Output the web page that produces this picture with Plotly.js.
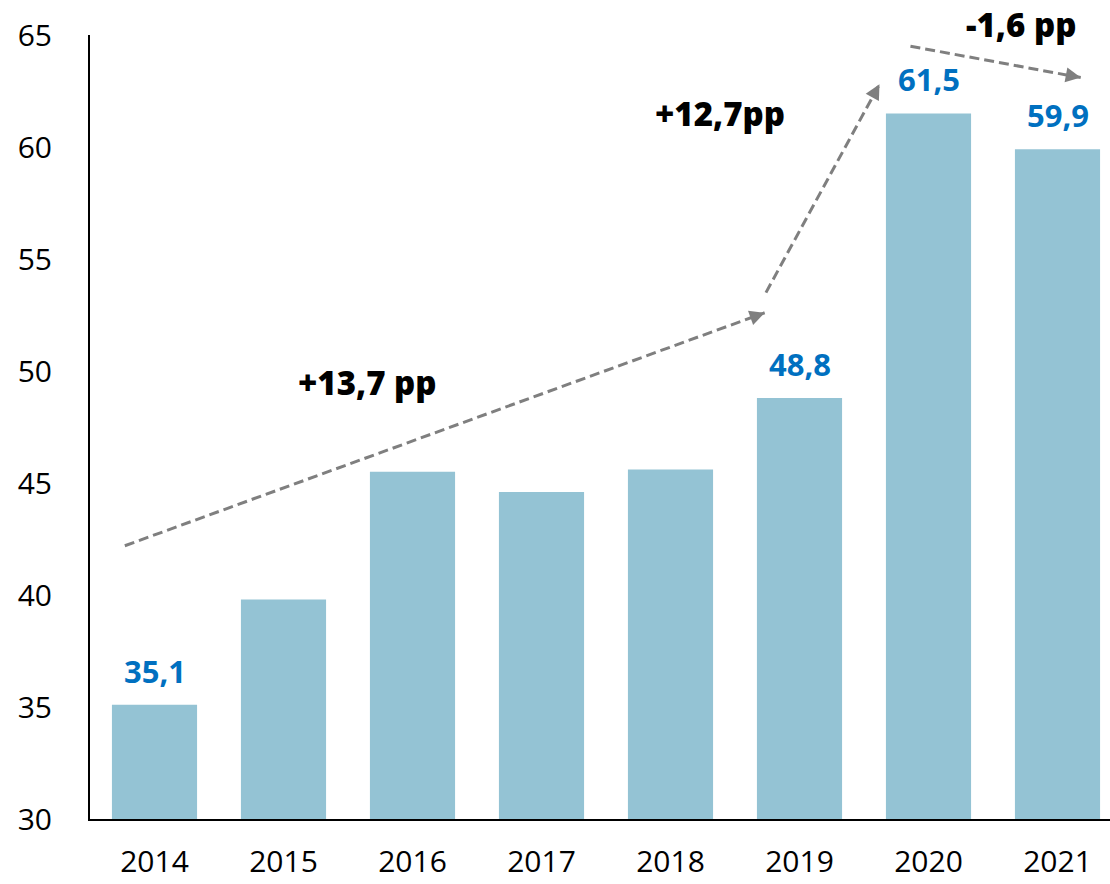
<!DOCTYPE html>
<html>
<head>
<meta charset="utf-8">
<script src="https://cdn.plot.ly/plotly-3.0.1.min.js"></script>
<style>html,body{margin:0;padding:0;background:#fff;}#chart{width:1110px;height:884px;}</style>
</head>
<body>
<div id="chart"></div>
<script>
const years = ['2014', '2015', '2016', '2017', '2018', '2019', '2020', '2021'];
const values = [35.1, 39.8, 45.5, 44.6, 45.6, 48.8, 61.5, 59.9];
const valueLabels = ['35,1', '', '', '', '', '48,8', '61,5', '59,9'];
const yTicks = [30, 35, 40, 45, 50, 55, 60, 65];

// change arrows: start / end in category-index / value units
const arrowStarts = [[-0.23, 42.2], [4.74, 53.5], [5.86, 64.5]];
const arrowEnds = [[4.73, 52.6], [5.62, 62.8], [7.18, 63.1]];
const changeLabels = ['+13,7 pp', '+12,7pp', '-1,6 pp'];
const changeLabelPos = [[1.65, 49.5], [4.38, 61.5], [6.72, 65.45]];

const W = 1110, H = 884;
const margin = {l: 90, r: 0, t: 35, b: 65};
const xRange = [-0.5, 7.407];
const yRange = [30, 65];
const pxX = (W - margin.l - margin.r) / (xRange[1] - xRange[0]);
const pxY = (H - margin.t - margin.b) / (yRange[1] - yRange[0]);

const gray = '#7F7F7F';
const shapes = [];
const annotations = [];

arrowStarts.forEach((s, i) => {
  const e = arrowEnds[i];
  shapes.push({type: 'line', xref: 'x', yref: 'y', x0: s[0], y0: s[1], x1: e[0], y1: e[1],
    line: {color: gray, width: 3, dash: '10px,5px'}});
  const dx = (e[0] - s[0]) * pxX, dy = -(e[1] - s[1]) * pxY;
  const len = Math.sqrt(dx * dx + dy * dy);
  annotations.push({x: e[0], y: e[1], xref: 'x', yref: 'y', text: '', showarrow: true,
    ax: -dx / len * 10, ay: -dy / len * 10, arrowhead: 2, arrowsize: 1, arrowwidth: 3,
    arrowcolor: gray, standoff: 0});
});

changeLabels.forEach((t, i) => {
  const yv = changeLabelPos[i][1];
  annotations.push({x: changeLabelPos[i][0], xref: 'x',
    y: (yv - yRange[0]) / (yRange[1] - yRange[0]), yref: 'paper',
    text: t, showarrow: false, xanchor: 'center', yanchor: 'middle',
    font: {family: 'Open Sans', size: 33, color: '#000', weight: 800}});
});

valueLabels.forEach((t, i) => {
  if (!t) return;
  annotations.push({x: i, y: values[i], xref: 'x', yref: 'y', text: t, showarrow: false,
    xanchor: 'center', yanchor: 'bottom', yshift: 11,
    font: {family: 'Open Sans', size: 31, color: '#0070C0', weight: 700}});
});

const trace = {
  type: 'bar',
  x: years.map((_, i) => i),
  y: values,
  marker: {color: '#94C3D4'},
  hoverinfo: 'skip'
};

const layout = {
  width: W, height: H,
  margin: margin,
  paper_bgcolor: '#fff', plot_bgcolor: '#fff',
  showlegend: false,
  bargap: 0.34,
  xaxis: {
    range: xRange, tickmode: 'array', tickvals: years.map((_, i) => i), ticktext: years,
    showgrid: false, zeroline: false, showline: true, linecolor: '#000', linewidth: 2,
    ticks: '', ticklabelstandoff: 15,
    tickfont: {family: 'Open Sans', size: 30, color: '#000'}
  },
  yaxis: {
    range: yRange, tickmode: 'array', tickvals: yTicks,
    showgrid: false, zeroline: false, showline: true, linecolor: '#000', linewidth: 2,
    ticks: '', ticklabelstandoff: 30,
    tickfont: {family: 'Open Sans', size: 30, color: '#000'}
  },
  shapes: shapes,
  annotations: annotations
};

Plotly.newPlot('chart', [trace], layout, {displayModeBar: false, staticPlot: true});
</script>
</body>
</html>
